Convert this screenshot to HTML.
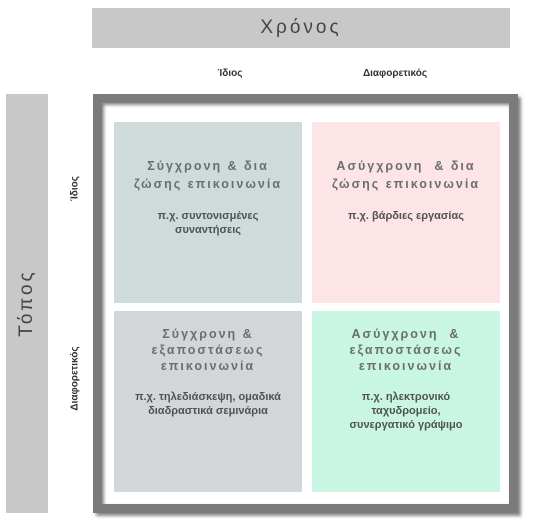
<!DOCTYPE html>
<html><head><meta charset="utf-8"><style>
html,body{margin:0;padding:0;background:#fff;width:533px;height:526px;overflow:hidden;position:relative;font-family:"Liberation Sans","DejaVu Sans",sans-serif}
.a{position:absolute}
.bar{background:#c8c8c8}
.frame{left:93px;top:94px;width:407px;height:401px;border:9px solid #7b7b7b;box-shadow:3px 3px 3px #8a8a8a, inset 2px 2px 3px #888;background:#fff}
.cell{text-align:center;color:#6a6e72}
.t{font-size:12.5px;font-weight:bold;letter-spacing:2px;line-height:18px}
.s{font-size:11px;font-weight:bold;color:#4f5356;line-height:14px;margin-top:16px}
.lab{font-size:10px;color:#333;font-weight:bold}
</style></head><body>
<div class="a bar" style="left:92px;top:8px;width:418px;height:40px"></div>
<div class="a" style="left:92px;top:8px;width:418px;height:40px;line-height:40px;text-align:center;font-size:19px;letter-spacing:3px;color:#454545">Χρόνος</div>
<div class="a bar" style="left:6px;top:94px;width:42px;height:419px"></div>
<div class="a" style="left:27px;top:303px;width:0;height:0"><div style="position:absolute;left:-60px;top:-14px;width:120px;text-align:center;font-size:19px;letter-spacing:3px;color:#454545;transform:rotate(-90deg);line-height:28px">Τόπος</div></div>
<div class="a lab" style="left:180px;top:68px;width:100px;text-align:center">Ίδιος</div>
<div class="a lab" style="left:345px;top:68px;width:100px;text-align:center">Διαφορετικός</div>
<div class="a" style="left:75px;top:190px"><div class="lab" style="position:absolute;left:-40px;top:-7px;width:80px;text-align:center;transform:rotate(-90deg)">Ίδιος</div></div>
<div class="a" style="left:75px;top:380px"><div class="lab" style="position:absolute;left:-50px;top:-7px;width:100px;text-align:center;transform:rotate(-90deg)">Διαφορετικός</div></div>
<div class="a frame"></div>
<div class="a cell" style="left:114px;top:122px;width:188px;height:181px;background:#cfdada">
<div class="t" style="margin-top:35px">Σύγχρονη &amp; δια<br>ζώσης επικοινωνία</div>
<div class="s">π.χ. συντονισμένες<br>συναντήσεις</div></div>
<div class="a cell" style="left:312px;top:122px;width:188px;height:181px;background:#fde5e7">
<div class="t" style="margin-top:35px">Ασύγχρονη &nbsp;&amp; δια<br>ζώσης επικοινωνία</div>
<div class="s">π.χ. βάρδιες εργασίας</div></div>
<div class="a cell" style="left:114px;top:311px;width:188px;height:181px;background:#d3d6d9">
<div class="t" style="margin-top:15px;line-height:16px">Σύγχρονη &amp;<br>εξαποστάσεως<br>επικοινωνία</div>
<div class="s">π.χ. τηλεδιάσκεψη, ομαδικά<br>διαδραστικά σεμινάρια</div></div>
<div class="a cell" style="left:312px;top:311px;width:188px;height:181px;background:#c8f6e2">
<div class="t" style="margin-top:15px;line-height:16px">Ασύγχρονη &nbsp;&amp;<br>εξαποστάσεως<br>επικοινωνία</div>
<div class="s">π.χ. ηλεκτρονικό<br>ταχυδρομείο,<br>συνεργατικό γράψιμο</div></div>
</body></html>
